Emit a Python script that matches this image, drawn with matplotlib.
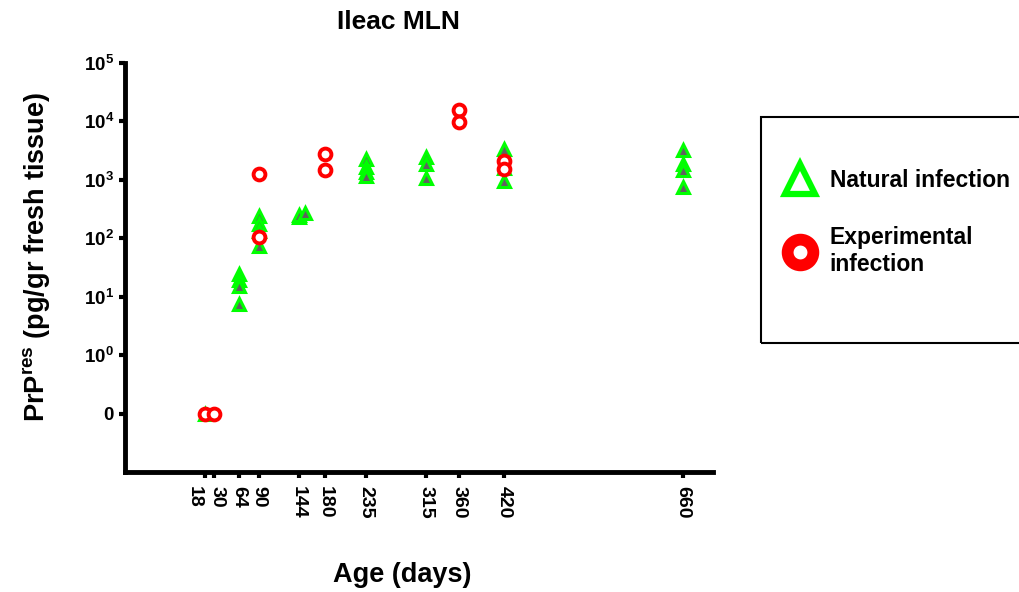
import matplotlib
matplotlib.use("Agg")
import matplotlib.pyplot as plt
from matplotlib.lines import Line2D
from matplotlib.patches import Rectangle
import numpy as np

plt.rcParams['font.family'] = ['Liberation Sans', 'DejaVu Sans']
plt.rcParams['font.weight'] = 'bold'
plt.rcParams['mathtext.fontset'] = 'custom'
plt.rcParams['mathtext.rm'] = 'Liberation Sans:bold'
plt.rcParams['mathtext.bf'] = 'Liberation Sans:bold'
plt.rcParams['mathtext.it'] = 'Liberation Sans:bold'

# Data (PrPres, pg/gr fresh tissue); 0 = not detected
natural_days = [18,
                64, 64, 64, 64,
                90, 90, 90, 90,
                144, 144, 152,
                235, 235, 235, 235,
                315, 315, 315,
                420, 420, 420,
                660, 660, 660, 660]
natural_vals = [0,
                24, 19, 15, 7.5,
                240, 175, 133, 74,
                230, 250, 265,
                2290, 1660, 1350, 1170,
                2450, 1860, 1070,
                3400, 1600, 960,
                3160, 1860, 1440, 760]

exp_days = [18, 30, 90, 90, 180, 180, 360, 360, 420, 420]
exp_vals = [0, 0, 1250, 105, 2750, 1480, 15800, 9770, 2090, 1520]

xticks = [18, 30, 64, 90, 144, 180, 235, 315, 360, 420, 660]
yticks = [-1, 0, 1, 2, 3, 4, 5]
ytick_labels = ['0'] + [r'$\mathbf{10^{%d}}$' % k for k in range(6)]

green = '#00ff00'
red = '#ff0000'


def to_axis(v):
    # broken log scale: zero is drawn one decade below 10^0
    v = np.asarray(v, dtype=float)
    return np.log10(np.where(v > 0, v, 0.1))


fig = plt.figure(figsize=(10.2, 5.92), dpi=100)
ax = fig.add_axes([125 / 1020, 1 - 472 / 592, (713 - 125) / 1020, (472 - 62.7) / 592])

ax.plot(natural_days, to_axis(natural_vals), ls='none', marker='^', ms=8.5,
        mfc='#606060', mec=green, mew=2.2, zorder=3)
ax.plot(exp_days, to_axis(exp_vals), ls='none', marker='o', ms=8.5,
        mfc='white', mec=red, mew=2.8, zorder=4)

ax.set_xlim(-89.5, 701)
ax.set_ylim(-2, 5)
ax.set_xticks(xticks)
# the two crowded labels (18, 30) are placed by hand below, nudged apart
ax.set_xticklabels(['', ''] + [str(t) for t in xticks[2:]], rotation=-90,
                   fontsize=14, fontweight='bold')
for t, dx in zip(xticks[:2], [-8, 2.2]):
    ax.annotate(str(t), xy=(t, 0), xycoords=ax.get_xaxis_transform(),
                xytext=(dx, -10), textcoords='offset points', rotation=-90,
                ha='center', va='top', fontsize=14, fontweight='bold')
ax.set_yticks(yticks)
ax.set_yticklabels(ytick_labels, fontsize=13.5)

for s in ['top', 'right']:
    ax.spines[s].set_visible(False)
for s in ['left', 'bottom']:
    ax.spines[s].set_linewidth(3.5)
ax.tick_params(axis='both', direction='out', length=4, width=3, pad=4)
ax.tick_params(axis='x', pad=6)

ax.set_xlabel('Age (days)', fontsize=19.5, fontweight='bold')
ax.xaxis.set_label_coords((402 - 125) / 588, (472 - 575) / 410)
ax.set_ylabel(r'PrP$^{\mathbf{res}}$ (pg/gr fresh tissue)', fontsize=19.5, fontweight='bold')
ax.yaxis.set_label_coords((37 - 125) / 588, (472 - 257) / 410)
ax.xaxis.label.set_va('center')
ax.yaxis.label.set_va('center')

fig.text(398 / 1020, 1 - 22 / 592, 'Ileac MLN', fontsize=19, fontweight='bold',
         ha='center', va='center')

# legend box (runs off the right edge, as in the original)
fig.patches.append(Rectangle((761 / 1020, 1 - 343 / 592), (1040 - 761) / 1020, (343 - 117) / 592,
                             transform=fig.transFigure, fill=False, edgecolor='black', lw=1.5))

handles = [
    Line2D([], [], ls='none', marker='^', ms=21, mfc='white', mec=green, mew=4.5),
    Line2D([], [], ls='none', marker='o', ms=18.5, mfc='white', mec=red, mew=8.5),
]
leg = fig.legend(handles, ['Natural infection', 'Experimental\ninfection'],
                 loc='upper left', bbox_to_anchor=(784 / 1020, 1 - 169 / 592),
                 frameon=False, prop={'size': 16.5, 'weight': 'bold'}, borderpad=0,
                 labelspacing=1.5, handlelength=1.4, handletextpad=0.6,
                 borderaxespad=0)

fig.savefig('out.png', dpi=100)
